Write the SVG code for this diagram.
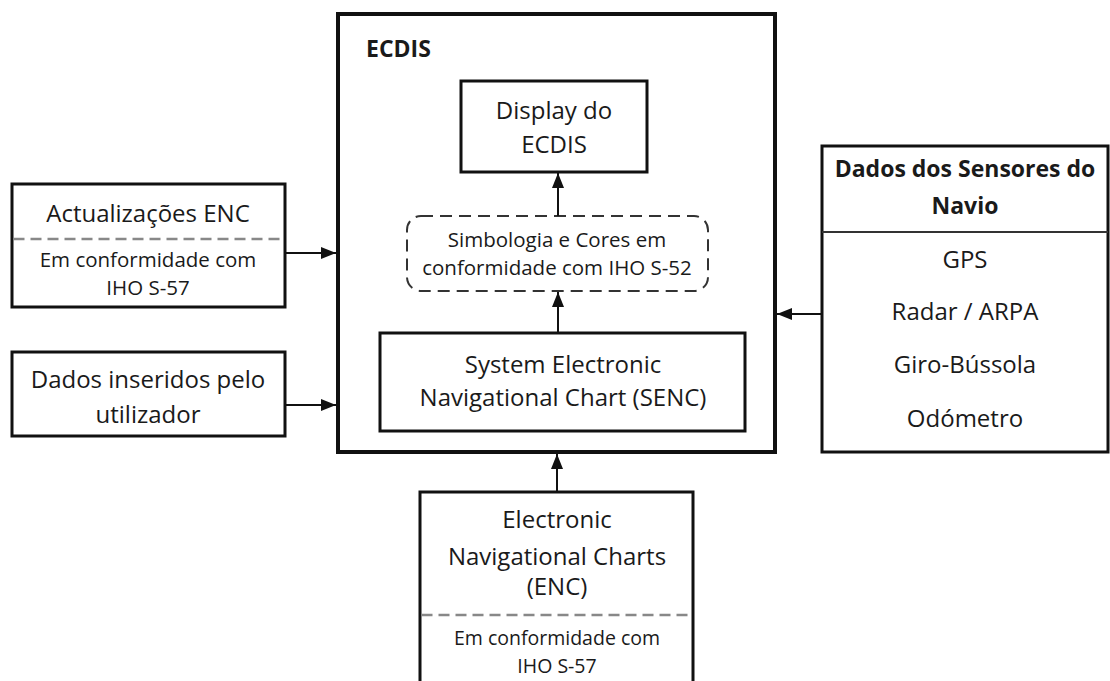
<svg xmlns="http://www.w3.org/2000/svg" width="1110" height="681" viewBox="0 0 1110 681">
<style>
text{font-family:"Open Sans","Liberation Sans",sans-serif;fill:#1a1a1a;text-anchor:middle}
.t{font-size:24px}
.s{font-size:20.5px}
.s2{font-size:19.5px}
.b{font-weight:bold}
.box{fill:#fff;stroke:#111;stroke-width:3}
.sep{stroke:#888;stroke-width:2.5;stroke-dasharray:11 6;fill:none}
.conn line{stroke:#111;stroke-width:2}
</style>
<defs>
<marker id="ah2" viewBox="0 0 10 10" refX="10" refY="5" markerWidth="15" markerHeight="15" markerUnits="userSpaceOnUse" orient="auto">
<path d="M0,1 L10,5 L0,9 z" fill="#111"/>
</marker>
</defs>
<rect width="1110" height="681" fill="#fff"/>

<g id="ecdis">
<rect x="338" y="14" width="437" height="438" fill="#fff" stroke="#111" stroke-width="4"/>
<text x="366" y="57" class="b" style="text-anchor:start;font-size:23px">ECDIS</text>
</g>

<g id="display">
<rect class="box" x="461" y="81" width="186" height="91" stroke-width="2"/>
<text x="554" y="119" class="t">Display do</text>
<text x="554" y="153" class="t">ECDIS</text>
</g>

<g id="simbologia">
<rect x="407" y="216" width="301" height="75" rx="14" ry="14" fill="#fff" stroke="#333" stroke-width="2" stroke-dasharray="12 7"/>
<text x="557" y="247" class="s">Simbologia e Cores em</text>
<text x="557" y="275" class="s">conformidade com IHO S-52</text>
</g>

<g id="senc">
<rect class="box" x="380" y="333" width="365" height="98"/>
<text x="563" y="373" class="t">System Electronic</text>
<text x="563" y="406" class="t">Navigational Chart (SENC)</text>
</g>

<g id="actualizacoes">
<rect class="box" x="12" y="184" width="273" height="123"/>
<line class="sep" x1="13.5" y1="239" x2="283.5" y2="239"/>
<text x="148" y="222" class="t">Actualizações ENC</text>
<text x="148" y="267" class="s">Em conformidade com</text>
<text x="148" y="295" class="s">IHO S-57</text>
</g>

<g id="dados-inseridos">
<rect class="box" x="12" y="352" width="273" height="84"/>
<text x="148" y="388" class="t">Dados inseridos pelo</text>
<text x="148" y="423" class="t">utilizador</text>
</g>

<g id="sensores">
<rect class="box" x="822" y="146" width="286" height="306"/>
<line x1="822" y1="232" x2="1108" y2="232" stroke="#333" stroke-width="2"/>
<text x="965" y="177" class="t b" style="font-size:23px">Dados dos Sensores do</text>
<text x="965" y="214" class="t b" style="font-size:23px">Navio</text>
<text x="965" y="268" class="t">GPS</text>
<text x="965" y="320" class="t">Radar / ARPA</text>
<text x="965" y="373" class="t">Giro-Bússola</text>
<text x="965" y="427" class="t">Odómetro</text>
</g>

<g id="enc">
<rect class="box" x="420" y="492" width="273" height="200"/>
<line class="sep" x1="421.5" y1="615" x2="691.5" y2="615"/>
<text x="557" y="528" class="t">Electronic</text>
<text x="557" y="565" class="t">Navigational Charts</text>
<text x="557" y="595" class="t">(ENC)</text>
<text x="557" y="645" class="s2">Em conformidade com</text>
<text x="557" y="673" class="s2">IHO S-57</text>
</g>

<g id="connectors" class="conn">
<line x1="558" y1="216" x2="558" y2="173" marker-end="url(#ah2)"/>
<line x1="558" y1="333" x2="558" y2="292" marker-end="url(#ah2)"/>
<line x1="285" y1="253" x2="336" y2="253" marker-end="url(#ah2)"/>
<line x1="285" y1="405" x2="336" y2="405" marker-end="url(#ah2)"/>
<line x1="822" y1="314" x2="777" y2="314" marker-end="url(#ah2)"/>
<line x1="557" y1="492" x2="557" y2="454" marker-end="url(#ah2)"/>
</g>
</svg>
